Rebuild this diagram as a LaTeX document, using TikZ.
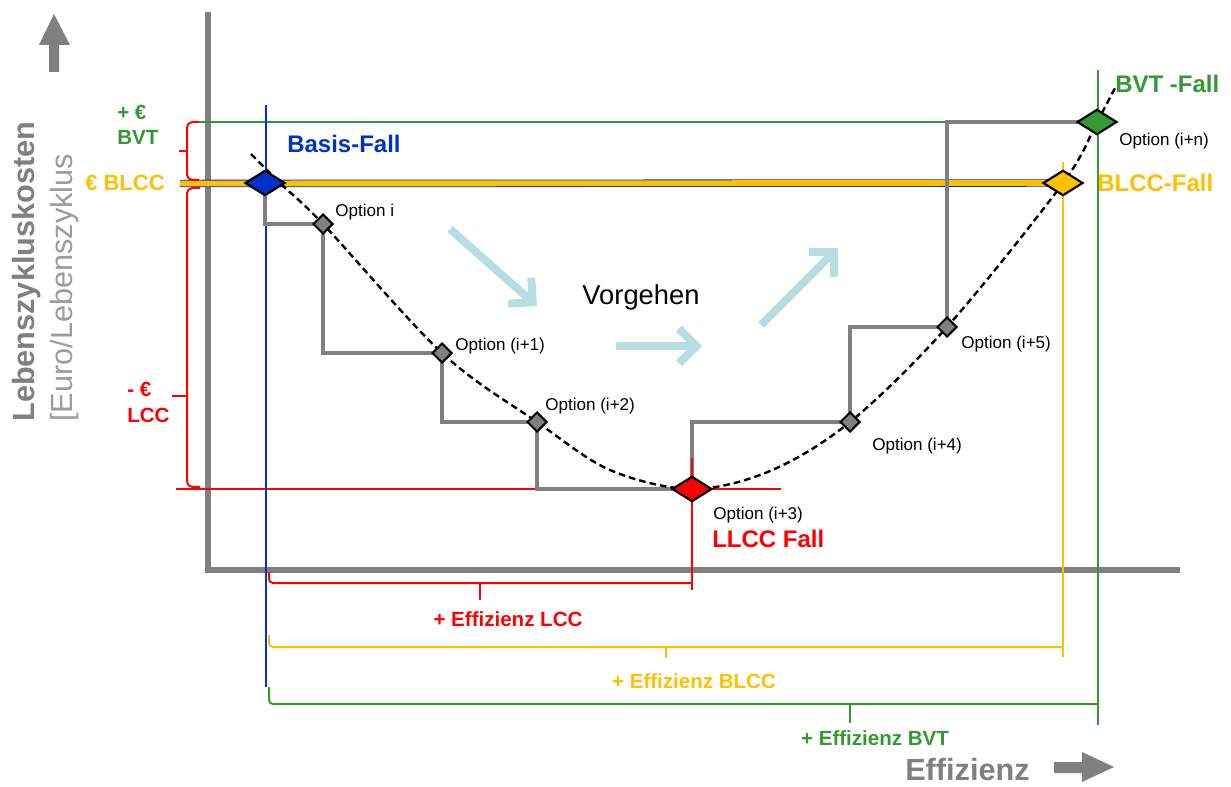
\documentclass[tikz,border=0pt]{standalone}
\usepackage{fontspec}
\setmainfont{Liberation Sans}
\usetikzlibrary{shapes.geometric,arrows.meta}
\definecolor{cgreen}{HTML}{339933}
\definecolor{cyellow}{HTML}{FFC000}
\definecolor{cred}{HTML}{FF0000}
\definecolor{cblue}{HTML}{0033CC}
\definecolor{cgray}{HTML}{808080}
\definecolor{clgray}{HTML}{9C9C9C}
\definecolor{carrow}{HTML}{B7DDE0}
\begin{document}
\begin{tikzpicture}[x=0.75pt,y=-0.75pt,
  optlabel/.style={font=\fontsize{12.8}{15}\selectfont, anchor=base west, inner sep=0},
  bigbold/.style={font=\fontsize{18}{21}\selectfont\bfseries, anchor=base west, inner sep=0},
  sidelab/.style={font=\fontsize{15.4}{18}\selectfont\bfseries, anchor=base west, inner sep=0},
  efflab/.style={font=\fontsize{15.4}{18}\selectfont\bfseries, anchor=base, inner sep=0},
  bigdia/.style={diamond, aspect=1.8, draw=black, line width=1.6pt, inner sep=0, minimum width=30pt, minimum height=19pt},
  smalldia/.style={diamond, draw=black, fill=cgray, line width=1.5pt, inner sep=0, minimum width=15pt, minimum height=15pt},
  stepline/.style={cgray, line width=2.4pt},
  colline/.style={line width=1.5pt},
  procarrow/.style={carrow, line width=6pt, -{Straight Barb[length=13pt,width=26pt]}},
  axisline/.style={cgray, line width=4.5pt}]
\useasboundingbox (0,0) rectangle (1231,787);

% coordinates
\coordinate (basisC) at (265,183);
\coordinate (optiC) at (323,224);
\coordinate (opt1C) at (442,353);
\coordinate (opt2C) at (537,422);
\coordinate (llccC) at (692,489);
\coordinate (opt4C) at (850,422);
\coordinate (opt5C) at (947,327);
\coordinate (blccC) at (1063,183);
\coordinate (bvtC) at (1097,122);

% axes
\draw[axisline] (208,12) -- (208,570) -- (1180,570);
\fill[cgray] (49,72) -- (49,45) -- (39,45) -- (54,14) -- (70,45) -- (59,45) -- (59,72) -- cycle;
\fill[cgray] (1054,762) -- (1082,762) -- (1082,752) -- (1114,767) -- (1082,782) -- (1082,773) -- (1054,773) -- cycle;

% axis labels
\node[font=\fontsize{23}{26}\selectfont\bfseries, text=cgray, rotate=90, anchor=base west, inner sep=0] (ylab) at (34,422) {Lebenszykluskosten};
\node[font=\fontsize{23}{26}\selectfont, text=clgray, rotate=90, anchor=base west, inner sep=0] (ylab2) at (72,422) {[Euro/Lebenszyklus};
\node[font=\fontsize{23}{26}\selectfont\bfseries, text=cgray, anchor=base west, inner sep=0] (xlab) at (905,780) {Effizienz};

% coloured horizontal lines
\coordinate (gL) at (198,122);
\coordinate (gR) at (947,122);
\draw[colline, cgreen] (gL) -- (gR);
\coordinate (bandL) at (180,183.5);
\draw[draw=cblue, line width=0.6pt, double=cyellow, double distance=4.4pt] (bandL) -- (blccC);
\coordinate (rL) at (176,489);
\coordinate (rR) at (781,489);
\draw[colline, cred] (rL) -- (rR);

% coloured vertical lines
\coordinate (bT) at (266,105);
\coordinate (bB) at (266,687);
\draw[colline, cblue] (bT) -- (bB);
\coordinate (yT) at (1063,162);
\coordinate (yB) at (1063,657);
\draw[colline, cyellow] (yT) -- (yB);
\coordinate (gT) at (1098,70);
\coordinate (gB) at (1098,725);
\draw[colline, cgreen] (gT) -- (gB);

% left braces
\draw[colline, cred, rounded corners=4] (199,122) -| (187,151) |- (199,180);
\draw[colline, cred] (187,151) -- (179,151);
\draw[colline, cred, rounded corners=4] (200,188) -| (187,396) |- (200,487);
\draw[colline, cred] (187,396) -- (172,396);

% bottom brackets
\draw[colline, cred, rounded corners=3] (269,572) |- (692,583);
\draw[colline, cred] (480,583) -- (480,600);
\draw[colline, cyellow, rounded corners=3] (269,635) |- (1063,647);
\draw[colline, cyellow] (666,647) -- (666,658);
\draw[colline, cgreen, rounded corners=3] (269,687) |- (1098,704);
\draw[colline, cgreen] (850,704) -- (850,723);

% steps
\draw[stepline] (basisC) |- (optiC);
\draw[stepline] (optiC) |- (opt1C);
\draw[stepline] (opt1C) |- (opt2C);
\draw[stepline] (opt2C) |- (llccC);
\draw[stepline] (llccC) |- (opt4C);
\draw[stepline] (opt4C) |- (opt5C);
\draw[stepline] (opt5C) |- (bvtC);

% red vertical through LLCC
\coordinate (rvT) at (692,458);
\coordinate (rvB) at (692,590);
\draw[colline, cred] (rvT) -- (rvB);

% dashed curve
\coordinate (cs) at (251,154);
\coordinate (c1) at (282,185);
\coordinate (c2) at (610,470);
\coordinate (c3) at (770,471);
\coordinate (ce) at (1115,88);
\draw[line width=1.8pt, dash pattern=on 5pt off 3pt] plot[smooth, tension=0.55] coordinates {(cs) (c1) (optiC) (opt1C) (opt2C) (c2) (llccC) (c3) (opt4C) (opt5C) (blccC) (bvtC) (ce)};

% diamonds
\node[bigdia, fill=cblue] (basis) at (basisC) {};
\node[bigdia, fill=cred] (llcc) at (llccC) {};
\node[bigdia, fill=cyellow] (blcc) at (blccC) {};
\node[bigdia, fill=cgreen] (bvt) at (bvtC) {};
\node[smalldia] (opti) at (optiC) {};
\node[smalldia] (opt1) at (opt1C) {};
\node[smalldia] (opt2) at (opt2C) {};
\node[smalldia] (opt4) at (opt4C) {};
\node[smalldia] (opt5) at (opt5C) {};

% process arrows
\coordinate (a1s) at (450,229);
\coordinate (a1e) at (537,306);
\coordinate (a2s) at (616,346);
\coordinate (a2e) at (702,346);
\coordinate (a3s) at (761,325);
\coordinate (a3e) at (838,248);
\draw[procarrow] (a1s) -- (a1e);
\draw[procarrow] (a2s) -- (a2e);
\draw[procarrow] (a3s) -- (a3e);
\node[font=\fontsize{20.5}{24}\selectfont, anchor=base, inner sep=0] (vorg) at (641,305) {Vorgehen};

% option labels
\node[optlabel] (lopti) at (335,217) {Option i};
\node[optlabel] (lopt1) at (455,351) {Option (i+1)};
\node[optlabel] (lopt2) at (545,411) {Option (i+2)};
\node[optlabel] (lopt3) at (713,519) {Option (i+3)};
\node[optlabel] (lopt4) at (872,451) {Option (i+4)};
\node[optlabel] (lopt5) at (961,349) {Option (i+5)};
\node[optlabel] (loptn) at (1119,146) {Option (i+n)};

% case labels
\node[bigbold, text=cblue] (lbasis) at (287,153) {Basis-Fall};
\node[bigbold, text=cred] (lllcc) at (712,547) {LLCC Fall};
\node[bigbold, text=cyellow] (lblcc) at (1097,192) {BLCC-Fall};
\node[bigbold, text=cgreen] (lbvt) at (1115,93) {BVT -Fall};

% side labels
\node[sidelab, text=cgreen] (lpe) at (117,120) {+ €};
\node[sidelab, text=cgreen] (lbvtside) at (117,145) {BVT};
\node[sidelab, text=cyellow, font=\fontsize{16.5}{19}\selectfont\bfseries] (leblcc) at (85,191) {€ BLCC};
\node[sidelab, text=cred] (lme) at (127,397) {- €};
\node[sidelab, text=cred] (llcc2) at (127,423) {LCC};

% bottom labels
\node[efflab, text=cred] (elcc) at (508,626) {+ Effizienz LCC};
\node[efflab, text=cyellow] (eblcc) at (694,688) {+ Effizienz BLCC};
\node[efflab, text=cgreen] (ebvt) at (875,745) {+ Effizienz BVT};
\end{tikzpicture}
\end{document}
